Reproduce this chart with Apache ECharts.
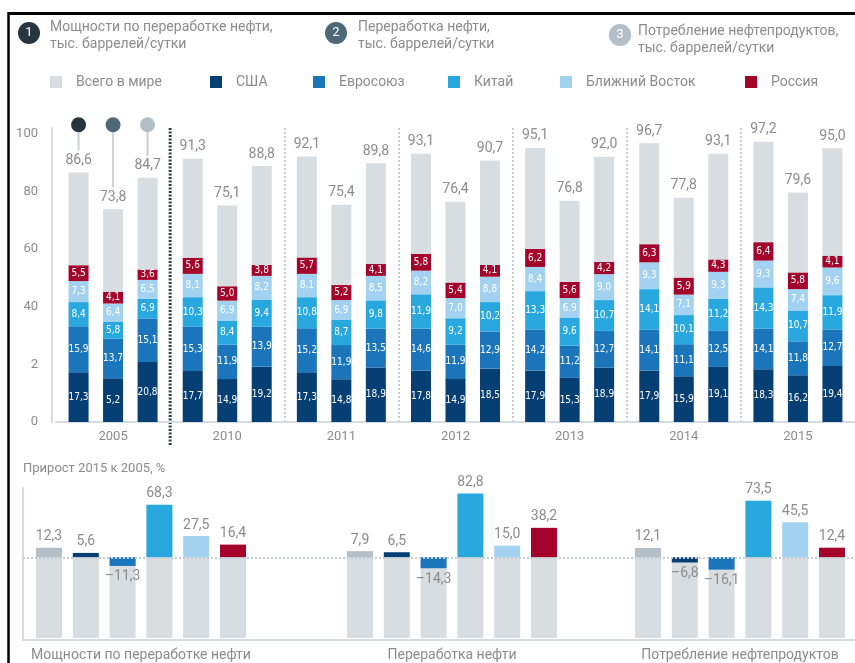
<!DOCTYPE html>
<html lang="ru">
<head>
<meta charset="utf-8">
<title>Нефтепереработка</title>
<script src="https://cdn.jsdelivr.net/npm/echarts@6/dist/echarts.min.js"></script>
<style>
	html, body { margin: 0; padding: 0; background: #fff; }
	#chart { width: 855px; height: 663px; }
</style>
</head>
<body>
<div id="chart"></div>
<script>
// ---- данные ----
const years = ["2005", "2010", "2011", "2012", "2013", "2014", "2015"];
const yTickValues = [0, 20, 40, 60, 80, 100];
const yTickLabels = ["0", "2", "40", "60", "80", "100"]; // так подписано в оригинале
const regions = ["Всего в мире", "США", "Евросоюз", "Китай", "Ближний Восток", "Россия"];

// 1. Мощности по переработке нефти, тыс. баррелей/сутки
const capacityUsa = [17.3, 17.7, 17.3, 17.8, 17.9, 17.9, 18.3];
const capacityEu = [15.9, 15.3, 15.2, 14.6, 14.2, 14.1, 14.1];
const capacityChina = [8.4, 10.3, 10.8, 11.9, 13.3, 14.1, 14.3];
const capacityMidEast = [7.3, 8.1, 8.1, 8.2, 8.4, 9.3, 9.3];
const capacityRussia = [5.5, 5.6, 5.7, 5.8, 6.2, 6.3, 6.4];
const capacityTotal = [86.6, 91.3, 92.1, 93.1, 95.1, 96.7, 97.2];

// 2. Переработка нефти
const processingUsa = [15.2, 14.9, 14.8, 14.9, 15.3, 15.9, 16.2];
const processingUsaLabels = { 0: "5,2" }; // подпись в оригинале
const processingEu = [13.7, 11.9, 11.9, 11.9, 11.2, 11.1, 11.8];
const processingChina = [5.8, 8.4, 8.7, 9.2, 9.6, 10.1, 10.7];
const processingMidEast = [6.4, 6.9, 6.9, 7.0, 6.9, 7.1, 7.4];
const processingRussia = [4.1, 5.0, 5.2, 5.4, 5.6, 5.9, 5.8];
const processingTotal = [73.8, 75.1, 75.4, 76.4, 76.8, 77.8, 79.6];

// 3. Потребление нефтепродуктов
const consumptionUsa = [20.8, 19.2, 18.9, 18.5, 18.9, 19.1, 19.4];
const consumptionEu = [15.1, 13.9, 13.5, 12.9, 12.7, 12.5, 12.7];
const consumptionChina = [6.9, 9.4, 9.8, 10.2, 10.7, 11.2, 11.9];
const consumptionMidEast = [6.5, 8.2, 8.5, 8.8, 9.0, 9.3, 9.6];
const consumptionRussia = [3.6, 3.8, 4.1, 4.1, 4.2, 4.3, 4.1];
const consumptionTotal = [84.7, 88.8, 89.8, 90.7, 92.0, 93.1, 95.0];

// Прирост 2015 к 2005, %
const growthGroups = ["Мощности по переработке нефти", "Переработка нефти", "Потребление нефтепродуктов"];
const growthCapacity = [12.3, 5.6, -11.3, 68.3, 27.5, 16.4];
const growthProcessing = [7.9, 6.5, -14.3, 82.8, 15.0, 38.2];
const growthConsumption = [12.1, -6.8, -16.1, 73.5, 45.5, 12.4];

// ---- оформление ----
const font = "Roboto, 'Noto Sans', sans-serif";
const narrowFont = "'Liberation Sans Narrow', 'DejaVu Sans Condensed', Roboto, sans-serif";
const textGrey = "#8c8c8c";
const axisGrey = "#d6dde2";
const regionColors = ["#d7dde1", "#053f74", "#1b75bb", "#29a8e0", "#a3d1f0", "#a4032b"];
const growthColors = ["#b3bec6", "#053f74", "#1b75bb", "#29a8e0", "#a3d1f0", "#a4032b"];
const markerColors = ["#263640", "#4d6877", "#b3bfc6"];
const barWidth = 20;
const barGapPct = 72.5;
const barStep = barWidth * (1 + barGapPct / 100);
const growthMin = -105;
const growthMax = 90;

const fmt = (v) => v.toFixed(1).replace(".", ",").replace("-", "–");

const metrics = [
	{ stack: "cap", parts: [capacityUsa, capacityEu, capacityChina, capacityMidEast, capacityRussia], total: capacityTotal, fix: {} },
	{ stack: "proc", parts: [processingUsa, processingEu, processingChina, processingMidEast, processingRussia], total: processingTotal, fix: { 0: processingUsaLabels } },
	{ stack: "cons", parts: [consumptionUsa, consumptionEu, consumptionChina, consumptionMidEast, consumptionRussia], total: consumptionTotal, fix: {} },
];

const chart = echarts.init(document.getElementById("chart"), null, { renderer: "canvas" });
const series = [];

// верхний график: три стопки в каждом году
metrics.forEach((m) => {
	m.parts.forEach((arr, i) => {
		series.push({
			name: regions[i + 1],
			type: "bar",
			stack: m.stack,
			xAxisIndex: 0,
			yAxisIndex: 0,
			barWidth: barWidth,
			barGap: barGapPct + "%",
			itemStyle: { color: regionColors[i + 1] },
			label: {
				show: true,
				position: "inside",
				color: "#fff",
				fontSize: 10,
				fontFamily: narrowFont,
				formatter: (p) => (m.fix[i] && m.fix[i][p.dataIndex]) || fmt(p.value),
			},
			data: arr,
		});
	});
	// остаток до общего мирового значения
	const rest = m.total.map((t, j) => +(t - m.parts.reduce((s, a) => s + a[j], 0)).toFixed(2));
	series.push({
		name: regions[0],
		type: "bar",
		stack: m.stack,
		xAxisIndex: 0,
		yAxisIndex: 0,
		barWidth: barWidth,
		barGap: barGapPct + "%",
		itemStyle: { color: regionColors[0] },
		label: {
			show: true,
			position: "top",
			distance: 5,
			color: textGrey,
			fontSize: 14,
			fontFamily: font,
			formatter: (p) => fmt(m.total[p.dataIndex]),
		},
		data: rest,
	});
});

// кружки-маркеры над 2005 годом
series.push({
	type: "custom",
	xAxisIndex: 0,
	yAxisIndex: 0,
	clip: false,
	silent: true,
	z: 5,
	data: metrics.map((m, k) => [years[0], m.total[0], k]),
	renderItem: (params, api) => {
		const k = api.value(2);
		const top = api.coord([api.value(0), api.value(1)]);
		const x = top[0] + (k - 1) * barStep;
		const dotY = api.coord([api.value(0), 100])[1] - 9;
		return {
			type: "group",
			children: [
				{ type: "line", shape: { x1: x, y1: dotY, x2: x, y2: top[1] - 22 }, style: { stroke: "#c8d2d8", lineWidth: 2 } },
				{ type: "circle", shape: { cx: x, cy: dotY, r: 7.5 }, style: { fill: markerColors[k] } },
			],
		};
	},
});

// нижний график: фон и оси
series.push({
	type: "line",
	xAxisIndex: 1,
	yAxisIndex: 1,
	data: [],
	silent: true,
	markLine: {
		symbol: "none",
		silent: true,
		label: { show: false },
		lineStyle: { color: "#c3ccd2", width: 2, type: [2, 2] },
		data: [{ yAxis: 0 }],
	},
});

const growthSets = [growthCapacity, growthProcessing, growthConsumption];
growthSets.forEach((vals, g) => {
	series.push({
		type: "bar",
		xAxisIndex: g + 2,
		yAxisIndex: g + 2,
		barWidth: 26,
		barGap: "-100%",
		silent: true,
		itemStyle: { color: regionColors[0] },
		data: vals.map(() => growthMin),
	});
	series.push({
		type: "bar",
		xAxisIndex: g + 2,
		yAxisIndex: g + 2,
		barWidth: 26,
		barGap: "-100%",
		data: vals.map((v, i) => ({
			value: v,
			itemStyle: { color: growthColors[i] },
			label: { position: v < 0 ? "bottom" : "top" },
		})),
		label: {
			show: true,
			distance: 4,
			color: textGrey,
			fontSize: 14,
			fontFamily: font,
			formatter: (p) => fmt(p.value),
		},
	});
});

const growthLeft = [30.6, 341.6, 629.6];
const growthGrids = growthLeft.map((left) => ({ left: left, width: 220.8, top: 488, bottom: 23 }));

const headers = [
	{ n: "1", color: markerColors[0], cx: 29, cy: 33, tx: 50, ty: 19, text: "Мощности по переработке нефти,\nтыс. баррелей/сутки" },
	{ n: "2", color: markerColors[1], cx: 336, cy: 33, tx: 358, ty: 19, text: "Переработка нефти,\nтыс. баррелей/сутки" },
	{ n: "3", color: markerColors[2], cx: 620, cy: 35, tx: 638, ty: 23, text: "Потребление нефтепродуктов,\nтыс. баррелей/сутки" },
];
const legendLeft = [50, 210, 313, 448, 560, 745];

const graphic = [
	{ type: "line", shape: { x1: 8, y1: 13.5, x2: 855, y2: 13.5 }, style: { stroke: "#000", lineWidth: 3 } },
	{ type: "line", shape: { x1: 8.5, y1: 12, x2: 8.5, y2: 663 }, style: { stroke: "#000", lineWidth: 2.5 } },
];
headers.forEach((h) => {
	graphic.push({ type: "circle", shape: { cx: h.cx, cy: h.cy, r: 11 }, style: { fill: h.color } });
	graphic.push({
		type: "text",
		x: h.cx,
		y: h.cy,
		style: { text: h.n, fill: "#fff", font: "13px " + font, align: "center", verticalAlign: "middle" },
	});
	graphic.push({
		type: "text",
		x: h.tx,
		y: h.ty,
		style: { text: h.text, fill: textGrey, font: "14px " + font, lineHeight: 17 },
	});
});

const option = {
	animation: false,
	backgroundColor: "#fff",
	textStyle: { fontFamily: font },
	title: {
		text: "Прирост 2015 к 2005, %",
		left: 23,
		top: 462,
		padding: 0,
		textStyle: { color: textGrey, fontSize: 13, fontWeight: "normal", fontFamily: font },
	},
	legend: regions.map((name, i) => ({
		data: [name],
		left: legendLeft[i],
		top: 75,
		padding: 0,
		icon: "rect",
		itemWidth: 12,
		itemHeight: 12,
		selectedMode: false,
		textStyle: { color: textGrey, fontSize: 14, fontFamily: font, padding: [0, 0, 0, 9] },
	})),
	graphic: graphic,
	grid: [
		{ left: 56, right: 0, top: 128, bottom: 241 },
		{ left: 23, right: 0, top: 488, bottom: 23 },
		...growthGrids,
	],
	xAxis: [
		{
			type: "category",
			gridIndex: 0,
			data: years,
			axisLine: { lineStyle: { color: axisGrey, width: 2 } },
			axisTick: { show: false },
			axisLabel: { color: textGrey, fontSize: 13, margin: 8 },
			splitLine: {
				show: true,
				interval: 0,
				lineStyle: {
					width: 2,
					type: [2, 2],
					// первый разделитель (2005 | 2010) рисуется отдельно, темнее и длиннее
					color: ["rgba(0,0,0,0)", "rgba(0,0,0,0)", "#c5cdd2", "#c5cdd2", "#c5cdd2", "#c5cdd2", "#c5cdd2", "rgba(0,0,0,0)"],
				},
			},
		},
		{
			type: "value",
			gridIndex: 1,
			min: 0,
			max: 1,
			axisLine: { show: true, onZero: false, lineStyle: { color: axisGrey, width: 2 } },
			axisTick: { show: false },
			axisLabel: { show: false },
			splitLine: { show: false },
		},
		...growthGroups.map((name, g) => ({
			type: "category",
			gridIndex: g + 2,
			data: regions,
			name: name,
			nameLocation: "middle",
			nameGap: 10,
			nameTextStyle: { color: textGrey, fontSize: 14, fontFamily: font, verticalAlign: "top" },
			axisLine: { show: false },
			axisTick: { show: false },
			axisLabel: { show: false },
		})),
	],
	yAxis: [
		{
			type: "value",
			gridIndex: 0,
			min: 0,
			max: 102,
			interval: 20,
			offset: 4,
			axisLine: { show: true, lineStyle: { color: axisGrey, width: 2 } },
			axisTick: { show: false },
			splitLine: { show: false },
			axisLabel: {
				color: textGrey,
				fontSize: 13,
				margin: 14,
				formatter: (v) => {
					const i = yTickValues.indexOf(v);
					return i >= 0 ? yTickLabels[i] : "";
				},
			},
		},
		{
			type: "value",
			gridIndex: 1,
			min: growthMin,
			max: growthMax,
			axisLine: { show: true, lineStyle: { color: axisGrey, width: 2 } },
			axisTick: { show: false },
			axisLabel: { show: false },
			splitLine: { show: false },
		},
		...growthGroups.map((name, g) => ({
			type: "value",
			gridIndex: g + 2,
			min: growthMin,
			max: growthMax,
			show: false,
			splitLine: { show: false },
		})),
	],
	series: series,
};

chart.setOption(option);

// тёмный разделитель между 2005 и 2010 — по координатам оси
const sepX = (chart.convertToPixel({ xAxisIndex: 0 }, years[0]) + chart.convertToPixel({ xAxisIndex: 0 }, years[1])) / 2;
const sepTop = chart.convertToPixel({ yAxisIndex: 0 }, 102);
const sepBottom = chart.convertToPixel({ yAxisIndex: 0 }, 0) + 24;
chart.setOption({
	graphic: graphic.concat([
		{
			type: "line",
			shape: { x1: sepX, y1: sepTop, x2: sepX, y2: sepBottom },
			style: { stroke: "#2d3f4b", lineWidth: 3, lineDash: [2, 1.5] },
		},
	]),
});
</script>
</body>
</html>
